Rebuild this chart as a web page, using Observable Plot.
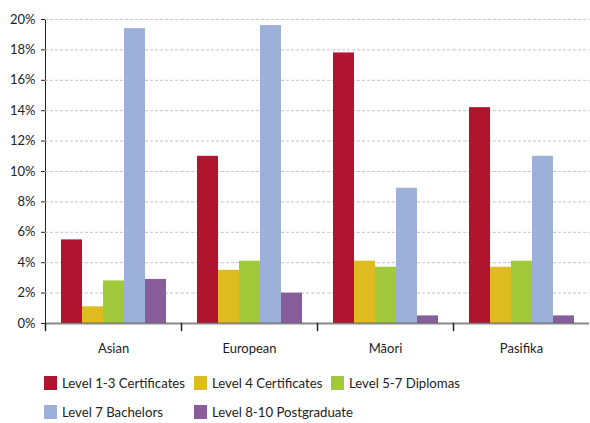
<!DOCTYPE html>
<html>
<head>
<meta charset="utf-8">
<script src="https://cdn.jsdelivr.net/npm/d3@7"></script>
<script src="https://cdn.jsdelivr.net/npm/@observablehq/plot@0.6"></script>
<style>
  body { margin: 0; background: #fff; font-family: Lato, "Liberation Sans", sans-serif; color: #222; }
  #wrap { position: relative; width: 590px; height: 423px; }
  #legend {
    position: absolute; left: 44px; top: 376px;
    display: grid; grid-template-columns: 150px 137px 150px; row-gap: 15px;
    font-size: 13.2px; line-height: 14px;
  }
  .item { display: flex; align-items: center; white-space: nowrap; }
  .sw { width: 13px; height: 14px; margin-right: 5px; flex: none; }
</style>
</head>
<body>
<div id="wrap"><div id="plot"></div><div id="legend"></div></div>
<script>
// Ethnic groups along the bottom, one facet each
const groups = ["Asian", "European", "Māori", "Pasifika"];
// Qualification levels, one bar each within a group
const levels = [
  "Level 1-3 Certificates",
  "Level 4 Certificates",
  "Level 5-7 Diplomas",
  "Level 7 Bachelors",
  "Level 8-10 Postgraduate"
];
const colors = ["#b0152f", "#debb1f", "#a1c93a", "#9db0da", "#875d9b"];

// Percentages by level, per group (same order as levels)
const asian    = [5.5, 1.1, 2.8, 19.4, 2.9];
const european = [11.0, 3.5, 4.1, 19.6, 2.0];
const maori    = [17.8, 4.1, 3.7, 8.9, 0.5];
const pasifika = [14.2, 3.7, 4.1, 11.0, 0.5];

const yTicks = [0, 2, 4, 6, 8, 10, 12, 14, 16, 18, 20];

const series = [asian, european, maori, pasifika];
const rows = groups.flatMap((g, gi) =>
  levels.map((lv, li) => ({group: g, level: lv, value: series[gi][li]}))
);

// short separator tick hanging below the baseline at each facet's left edge
const tickShape = {
  draw(context, l) { context.moveTo(0, 0); context.lineTo(0, -l); }
};

const chart = Plot.plot({
  width: 590,
  height: 362,
  marginTop: 19,
  marginLeft: 44,
  marginRight: 0,
  marginBottom: 39,
  style: {fontFamily: "Lato, 'Liberation Sans', sans-serif", fontSize: "13px", color: "#222", background: "white"},
  fx: {domain: groups, padding: 0, axis: "bottom", label: null, tickSize: 0, tickPadding: 20},
  x: {domain: levels, axis: null, paddingInner: 0, paddingOuter: 0.69},
  y: {domain: [0, 20], ticks: yTicks, tickFormat: d => d + "%", tickSize: 4, tickPadding: 6, label: null, line: true},
  color: {domain: levels, range: colors},
  marks: [
    Plot.gridY(yTicks.filter(d => d > 0), {stroke: "#c6c6c6", strokeOpacity: 1, strokeDasharray: "3,2"}),
    Plot.barY(rows, {fx: "group", x: "level", y: "value", fill: "level"}),
    Plot.ruleY([0], {stroke: "#555", strokeWidth: 2, strokeOpacity: 0.7}),
    Plot.vector([0], {frameAnchor: "bottom-left", length: 7, rotate: 180, anchor: "start", stroke: "#222", strokeWidth: 1.5, shape: tickShape})
  ]
});
document.getElementById("plot").appendChild(chart);

// legend: three items on the first row, two on the second
const legend = d3.select("#legend");
levels.forEach((lv, i) => {
  const item = legend.append("div").attr("class", "item");
  item.append("span").attr("class", "sw").style("background", colors[i]);
  item.append("span").text(lv);
});
</script>
</body>
</html>
